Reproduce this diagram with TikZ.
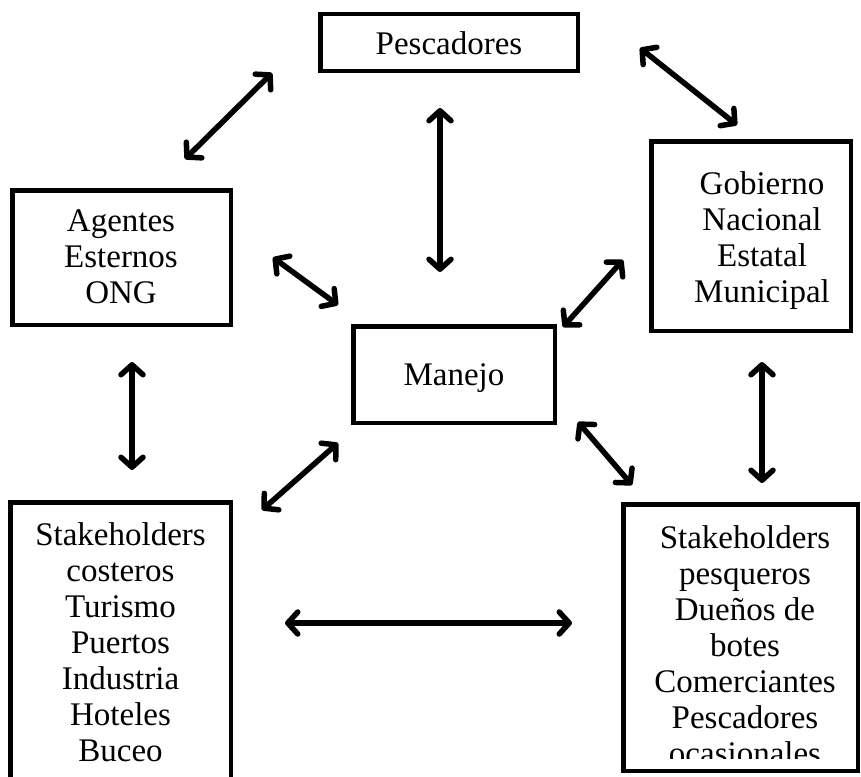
\documentclass[tikz,border=0pt]{standalone}
\usepackage{fontspec}
\setmainfont{Liberation Serif}
\usetikzlibrary{arrows.meta,calc}

\begin{document}
\begin{tikzpicture}[
    x=1pt, y=-1pt,
    box/.style={rectangle, draw, line width=4.5pt, inner sep=0pt},
    txt/.style={align=center, inner sep=0pt, font=\fontsize{33}{36}\selectfont},
    arrow/.style={{Straight Barb[length=10pt,width=22pt,round]}-{Straight Barb[length=10pt,width=22pt,round]}, line width=5.5pt}
]
\clip (0,0) rectangle (861,776);

% Top: fishers
\node[box, minimum width=257.5, minimum height=56.5] (pesc) at (449,42.5) {};
\node[txt, anchor=base] (pesctxt) at (449,55) {Pescadores};

% Left: external agents
\node[box, minimum width=218.5, minimum height=134.5] (agen) at (121.5,257.5) {};
\node[txt, anchor=north] (agentxt) at (121,209.5) {Agentes\\Esternos\\ONG};

% Right: government
\node[box, minimum width=199.5, minimum height=189.5] (gob) at (751,236) {};
\node[txt, anchor=north] (gobtxt) at (762,171.5) {Gobierno\\Nacional\\Estatal\\Municipal};

% Middle: management
\node[box, minimum width=201.5, minimum height=96.5] (manejo) at (454,374.5) {};
\node[txt, anchor=base] (manejotxt) at (454,385) {Manejo};

% Bottom left: coastal stakeholders
\node[box, minimum width=220.5, minimum height=285.5] (cost) at (120.5,645) {};
\node[txt, anchor=north] (costtxt) at (120.5,522.5) {Stakeholders\\costeros\\Turismo\\Puertos\\Industria\\Hoteles\\Buceo};

% Bottom right: fishery stakeholders (last line cut)
\node[box, minimum width=234.5, minimum height=266.5] (pesq) at (740.5,637.5) {};
\begin{scope}
\clip (621,502) rectangle (860,758);
\node[txt, anchor=north] (pesqtxt) at (745,525.5) {Stakeholders\\pesqueros\\Dueños de\\botes\\Comerciantes\\Pescadores\\ocasionales};
\end{scope}

% Arrows between the actors
\draw[arrow] ($(pesc.south west)+(-46,0)$) -- ($(agen.north east)+(-48,-29)$);
\draw[arrow] ($(pesc.south)+(-9,35)$) -- ($(manejo.north)+(-14,-52)$);
\draw[arrow] ($(pesc.east)+(60,5.5)$) -- ($(gob.north)+(-14,-14)$);
\draw[arrow] ($(agen.east)+(40,0)$) -- ($(manejo.north west)+(-13,-19)$);
\draw[arrow] ($(gob.west)+(-26,24)$) -- ($(manejo.north east)+(6,3)$);
\draw[arrow] ($(agen.south)+(10.5,35)$) -- ($(cost.north)+(11.5,-30)$);
\draw[arrow] ($(manejo.south west)+(-13,18)$) -- ($(cost.north east)+(29,10)$);
\draw[arrow] ($(manejo.south east)+(21,-3)$) -- ($(pesq.north west)+(11,-17)$);
\draw[arrow] ($(gob.south)+(11,29)$) -- ($(pesq.north)+(21.5,-19)$);
\draw[arrow] ($(cost.east)+(52,-22)$) -- ($(pesq.west)+(-49,-14.5)$);

\end{tikzpicture}
\end{document}
